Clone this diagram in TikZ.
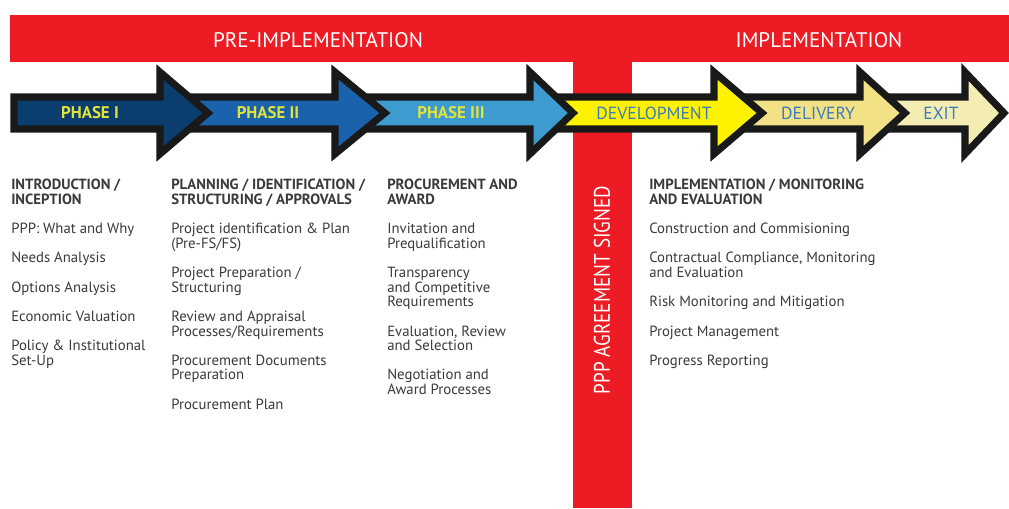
\documentclass[tikz,border=0pt]{standalone}
\usepackage{fontspec}
\setmainfont{PT Sans}
\usepackage{xcolor}
\usepackage{graphicx}
\usepackage{tikz}
\usetikzlibrary{positioning}

\definecolor{pppred}{HTML}{ED1C24}
\definecolor{phaseone}{HTML}{0B3D6F}
\definecolor{phasetwo}{HTML}{1A63AC}
\definecolor{phasethree}{HTML}{3E9BCF}
\definecolor{develop}{HTML}{FFF200}
\definecolor{deliver}{HTML}{F2E185}
\definecolor{exitc}{HTML}{F3EDB4}
\definecolor{labelyellow}{HTML}{E1E33C}
\definecolor{labelblue}{HTML}{3A7CBD}
\definecolor{bodytext}{HTML}{3A3A3A}

% fill colour, shaft start, head back, tip
\newcommand{\phasearrow}[4]{%
  \draw [arrowshape, fill=#1] (#2,97) -- (#3,97) -- (#3,72) -- (#4,113) -- (#3,154) -- (#3,129) -- (#2,129) -- cycle;}
\newcommand{\nextitem}{\\[10.4pt]}

\begin{document}
\begin{tikzpicture}[x=0.025cm, y=-0.025cm]
  \tikzstyle{band} = [fill=pppred, draw=none]
  \tikzstyle{bandtext} = [text=white, font=\fontsize{15}{17}\selectfont]
  \tikzstyle{arrowshape} = [draw=black!90, line width=5pt, line join=miter]
  \tikzstyle{phaselabel} = [text=labelyellow, font=\bfseries\fontsize{12}{14}\selectfont]
  \tikzstyle{stagelabel} = [text=labelblue, font=\fontsize{12.5}{14}\selectfont]
  \tikzstyle{column} = [anchor=north west, align=left, inner sep=0pt, text=bodytext, font=\fontsize{10.5}{10.4}\selectfont]

  \useasboundingbox (0,0) rectangle (1009,508);
  \fill [white] (0,0) rectangle (1009,508);

  \fill [band] (10,15) rectangle (1009,62);
  \fill [band] (573,62) rectangle (632,508);
  \node (pre) [bandtext] at (318,40) {PRE-IMPLEMENTATION};
  \node (impl) [bandtext] at (819,40) {IMPLEMENTATION};

  \phasearrow{exitc}{870}{965}{1004}
  \phasearrow{deliver}{724}{860}{905}
  \phasearrow{develop}{540}{714}{762}
  \phasearrow{phasethree}{345}{530}{573}
  \phasearrow{phasetwo}{170}{335}{385}
  \phasearrow{phaseone}{14}{160}{208}

  \node (phaseI) [phaselabel] at (90,113) {PHASE I};
  \node (phaseII) [phaselabel] at (268,113) {PHASE II};
  \node (phaseIII) [phaselabel] at (451,113) {PHASE III};
  \node (development) [stagelabel] at (654,113) {DEVELOPMENT};
  \node (delivery) [stagelabel] at (818,113) {DELIVERY};
  \node (exit) [stagelabel] at (941,113) {EXIT};

  \node (signed) [rotate=90, text=white, font=\fontsize{16}{18}\selectfont] at (602,290) {\scalebox{0.85}[1]{PPP AGREEMENT SIGNED}};

  \node (inception) [column] at (11,179) {\textbf{INTRODUCTION /}\\\textbf{INCEPTION}\nextitem
    PPP: What and Why\nextitem
    Needs Analysis\nextitem
    Options Analysis\nextitem
    Economic Valuation\nextitem
    Policy \& Institutional\\Set-Up};
  \node (planning) [column] at (171,179) {\textbf{PLANNING / IDENTIFICATION /}\\\textbf{STRUCTURING / APPROVALS}\nextitem
    Project identification \& Plan\\(Pre-FS/FS)\nextitem
    Project Preparation /\\Structuring\nextitem
    Review and Appraisal\\Processes/Requirements\nextitem
    Procurement Documents\\Preparation\nextitem
    Procurement Plan};
  \node (procurement) [column] at (387,179) {\textbf{PROCUREMENT AND}\\\textbf{AWARD}\nextitem
    Invitation and\\Prequalification\nextitem
    Transparency\\and Competitive\\Requirements\nextitem
    Evaluation, Review\\and Selection\nextitem
    Negotiation and\\Award Processes};
  \node (monitoring) [column] at (649,179) {\textbf{IMPLEMENTATION / MONITORING}\\\textbf{AND EVALUATION}\nextitem
    Construction and Commisioning\nextitem
    Contractual Compliance, Monitoring\\and Evaluation\nextitem
    Risk Monitoring and Mitigation\nextitem
    Project Management\nextitem
    Progress Reporting};
\end{tikzpicture}
\end{document}
